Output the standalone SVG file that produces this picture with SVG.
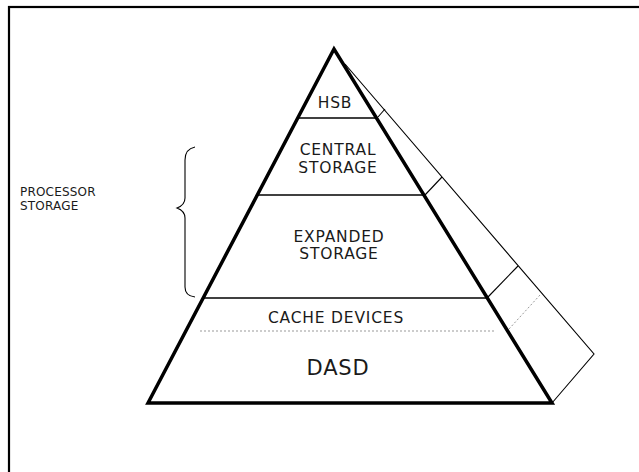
<svg xmlns="http://www.w3.org/2000/svg" width="639" height="472" viewBox="0 0 639 472">
  <style>
    .lbl { font-family: "DejaVu Sans", "Liberation Sans", sans-serif; fill: #1a1a1a; text-anchor: middle; font-size: 15.5px; letter-spacing: 0.8px; }
    .side { font-family: "DejaVu Sans", "Liberation Sans", sans-serif; fill: #1a1a1a; font-size: 12px; letter-spacing: 0.2px; }
    .edge { stroke: #000; stroke-width: 3.5; stroke-linecap: round; stroke-linejoin: miter; fill: none; }
    .tier { stroke: #000; stroke-width: 1.6; fill: none; }
    .thin { stroke: #000; stroke-width: 1.1; fill: none; }
    .dots { stroke: #999; stroke-width: 1; stroke-dasharray: 2 2; fill: none; }
  </style>
  <rect width="639" height="472" fill="#fff"/>
  <!-- page frame running off the right and bottom -->
  <rect x="9" y="7" width="660" height="500" fill="none" stroke="#000" stroke-width="2.2"/>

  <g id="pyramid">
    <path class="edge" d="M148,403 L334,49 L552,403 Z"/>
  </g>

  <g id="connectors">
    <!-- tier boundaries -->
    <line class="tier" x1="297.7" y1="118" x2="376.5" y2="118"/>
    <line class="tier" x1="257.3" y1="195" x2="423.9" y2="195"/>
    <line class="tier" x1="203.2" y1="298" x2="487.3" y2="298"/>
    <line class="dots" x1="200" y1="331" x2="495" y2="331"/>
    <!-- side face -->
    <polyline class="thin" points="345,64 594,354 552,403"/>
    <line class="thin" x1="378" y1="117" x2="385" y2="109"/>
    <line class="thin" x1="425" y1="195" x2="442" y2="177"/>
    <line class="thin" x1="488" y1="297" x2="518" y2="266"/>
    <line class="dots" x1="509" y1="329" x2="540" y2="295" stroke="#333"/>
    <!-- brace for processor storage -->
    <path class="thin" d="M195,147 Q185,149 185,160 L185,198 Q185,205 177,208 Q185,211 185,218 L185,287 Q185,296 195,297"/>
  </g>

  <g id="hsb"><text class="lbl" x="335" y="108">HSB</text></g>
  <g id="central"><text class="lbl" x="338" y="155">CENTRAL</text><text class="lbl" x="338" y="173">STORAGE</text></g>
  <g id="expanded"><text class="lbl" x="339" y="242">EXPANDED</text><text class="lbl" x="339" y="259">STORAGE</text></g>
  <g id="cache"><text class="lbl" x="336" y="323">CACHE DEVICES</text></g>
  <g id="dasd"><text class="lbl" x="338" y="375" style="font-size:21px">DASD</text></g>
  <g id="processor"><text class="side" x="20" y="196">PROCESSOR</text><text class="side" x="20" y="210">STORAGE</text></g>
</svg>
